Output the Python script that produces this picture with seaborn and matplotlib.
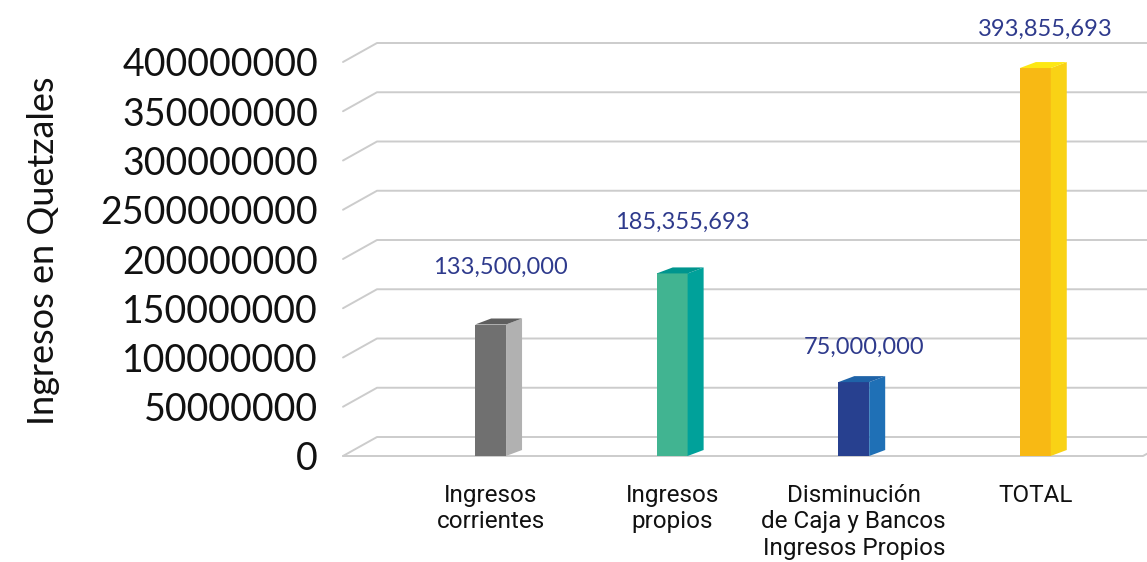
import matplotlib
matplotlib.use("Agg")
import matplotlib.pyplot as plt
import seaborn as sns
import numpy as np
from matplotlib.patches import Polygon

# ---------------- data ----------------
categorias = ["Ingresos\ncorrientes", "Ingresos\npropios",
              "Disminución\nde Caja y Bancos\nIngresos Propios", "TOTAL"]
valores = [133500000, 185355693, 75000000, 393855693]
etiquetas_valor = ["133,500,000", "185,355,693", "75,000,000", "393,855,693"]
ticks_y = [0, 50000000, 100000000, 150000000, 200000000,
           250000000, 300000000, 350000000, 400000000]
etiquetas_y = ["0", "50000000", "100000000", "150000000", "200000000",
               "2500000000", "300000000", "350000000", "400000000"]
titulo_y = "Ingresos en Quetzales"

# ---------------- style ----------------
colores_frente = ["#707070", "#41b491", "#27408f", "#f8b914"]
colores_lado = ["#b1b1b1", "#00a19a", "#1f70b6", "#f9d215"]
colores_tapa = ["#5e5e5e", "#00958e", "#1f63a8", "#fde814"]
color_grid = "#cccccc"
color_valor = "#2e3a8c"
desfase_etiqueta_px = [57, 51, 35, 39]

sns.set_theme(style="white")
plt.rcParams["font.family"] = ["Lato", "DejaVu Sans"]

W, H = 1147, 562
fig = plt.figure(figsize=(W / 100, H / 100), dpi=100)
fig.patch.set_facecolor("white")
ax_left, ax_right, ax_bottom, ax_top = 343, 1143, 456, 62
ax = fig.add_axes([ax_left / W, 1 - ax_bottom / H,
                   (ax_right - ax_left) / W, (ax_bottom - ax_top) / H])

sns.barplot(x=categorias, y=valores, hue=categorias, palette=colores_frente,
            width=0.17, saturation=1, legend=False, ax=ax, zorder=3)

xl, xr = -0.813, 3.593
ax.set_xlim(xl, xr)
ax.set_ylim(0, 400000000)

px_x = (ax_right - ax_left) / (xr - xl)
px_y = (ax_bottom - ax_top) / 400000000.0
def dxp(p):
    return p / px_x
def dyp(p):
    return p / px_y

# back-wall gridlines with perspective slant
gdx, gdy = dxp(34), dyp(19)
for v in ticks_y:
    ax.plot([xl, xl + gdx, xr + 3 * gdx], [v, v + gdy, v + gdy],
            color=color_grid, lw=1.4, clip_on=False, zorder=0.5)
# front floor edge
ax.plot([xl, xr, xr + gdx], [0, 0, gdy], color=color_grid, lw=1.4,
        clip_on=False, zorder=0.6)

# 3D faces of the bars
bdx, bdy = dxp(16), dyp(6)
for i, p in enumerate(ax.patches):
    x0, w, h = p.get_x(), p.get_width(), p.get_height()
    p.set_edgecolor("none")
    side = Polygon([(x0 + w, 0), (x0 + w, h), (x0 + w + bdx, h + bdy),
                    (x0 + w + bdx, bdy)], closed=True,
                   facecolor=colores_lado[i], edgecolor="none", zorder=3)
    top = Polygon([(x0, h), (x0 + bdx, h + bdy), (x0 + w + bdx, h + bdy),
                   (x0 + w, h)], closed=True,
                  facecolor=colores_tapa[i], edgecolor="none", zorder=3)
    ax.add_patch(side)
    ax.add_patch(top)
    ax.annotate(etiquetas_valor[i], xy=(x0 + w / 2 + dxp(10), h),
                xytext=(0, desfase_etiqueta_px[i] * 0.72),
                textcoords="offset points", ha="center", va="center",
                fontsize=17, color=color_valor, fontfamily="Lato",
                annotation_clip=False)

for s in ax.spines.values():
    s.set_visible(False)
ax.set_facecolor("white")
ax.grid(False)

ax.set_yticks(ticks_y)
ax.set_yticklabels(etiquetas_y, fontsize=27, color="#111111")
ax.tick_params(axis="y", length=0, pad=18)
ax.set_xticks(range(len(categorias)))
ax.set_xticklabels(categorias, fontsize=17.5, color="#111111",
                   fontfamily="Roboto", linespacing=1.2, va="top")
ax.tick_params(axis="x", length=0, pad=20)

ax.set_xlabel("")
ax.set_ylabel(titulo_y, fontsize=26, color="#111111")
ax.yaxis.set_label_coords((60 - ax_left) / (ax_right - ax_left), 0.52)

fig.savefig("out.png", dpi=100, facecolor="white")
